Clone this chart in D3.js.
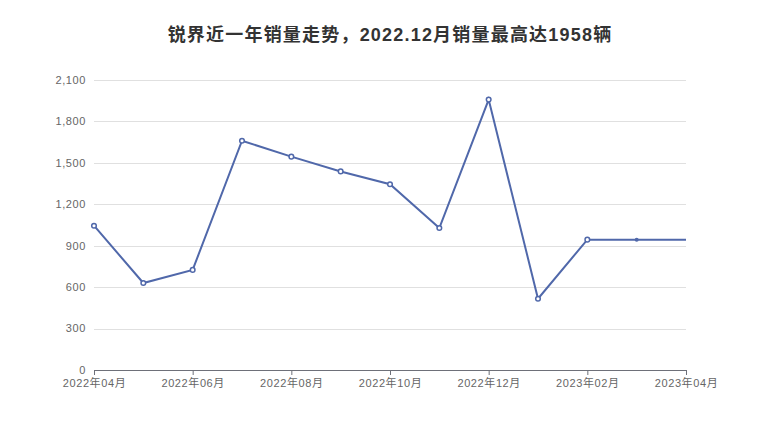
<!DOCTYPE html>
<html>
<head>
<meta charset="utf-8">
<script src="https://cdn.jsdelivr.net/npm/d3@7"></script>
<style>
body { margin: 0; background: #fff; }
svg { font-family: "Liberation Sans", "Noto Sans CJK SC", sans-serif; }
.grid line { stroke: #e0e0e0; }
</style>
</head>
<body>
<svg width="780" height="440"></svg>
<script>
var title = "锐界近一年销量走势，2022.12月销量最高达1958辆";
var months = ["2022-04", "2022-05", "2022-06", "2022-07", "2022-08", "2022-09", "2022-10",
  "2022-11", "2022-12", "2023-01", "2023-02", "2023-03", "2023-04"];
var sales = [1045, 630, 725, 1660, 1545, 1438, 1345, 1028, 1958, 516, 944, 944, 944];
var yTicks = [0, 300, 600, 900, 1200, 1500, 1800, 2100];
var xTickMonths = ["2022-04", "2022-06", "2022-08", "2022-10", "2022-12", "2023-02", "2023-04"];

var svg = d3.select("svg"),
  margin = {top: 80, right: 94, bottom: 70, left: 94},
  width = +svg.attr("width") - margin.left - margin.right,
  height = +svg.attr("height") - margin.top - margin.bottom;

var data = months.map(function(m, i) { return {month: m, value: sales[i]}; });

var x = d3.scalePoint()
  .domain(months)
  .range([0, width]);

var y = d3.scaleLinear()
  .domain([0, 2100])
  .range([height, 0]);

svg.append("text")
  .attr("x", 390)
  .attr("y", 41)
  .attr("text-anchor", "middle")
  .attr("font-size", 18)
  .attr("font-weight", "bold")
  .attr("letter-spacing", 1.2)
  .attr("fill", "#333")
  .text(title);

var g = svg.append("g").attr("transform", "translate(" + margin.left + "," + margin.top + ")");

// horizontal grid
g.append("g")
  .attr("class", "grid")
  .selectAll("line")
  .data(yTicks.slice(1))
  .enter().append("line")
  .attr("x1", 0)
  .attr("x2", width)
  .attr("y1", function(d) { return Math.round(y(d)) + 0.5; })
  .attr("y2", function(d) { return Math.round(y(d)) + 0.5; });

// y labels
g.append("g")
  .selectAll("text")
  .data(yTicks)
  .enter().append("text")
  .attr("x", -8)
  .attr("y", function(d) { return y(d); })
  .attr("dy", "0.35em")
  .attr("text-anchor", "end")
  .attr("font-size", 11)
  .attr("letter-spacing", 0.6)
  .attr("fill", "#666")
  .text(d3.format(","));

// x axis
function fmtMonth(m) { var p = m.split("-"); return p[0] + "年" + p[1] + "月"; }
var xAxis = g.append("g")
  .attr("transform", "translate(0," + height + ")")
  .call(d3.axisBottom(x)
    .tickValues(xTickMonths)
    .tickSize(5)
    .tickSizeOuter(0)
    .tickFormat(fmtMonth));
xAxis.select(".domain").attr("stroke", "#6e7079");
xAxis.selectAll(".tick line").attr("stroke", "#6e7079");
xAxis.selectAll("text")
  .attr("font-size", 11)
  .attr("fill", "#666")
  .attr("letter-spacing", 0.6)
  .attr("font-family", "\"Liberation Sans\", \"Noto Sans CJK SC\", sans-serif")
  .attr("y", 9)
  .attr("dy", "0.71em");

var line = d3.line()
  .x(function(d) { return x(d.month); })
  .y(function(d) { return y(d.value); });

g.append("path")
  .datum(data)
  .attr("fill", "none")
  .attr("stroke", "#5068aa")
  .attr("stroke-width", 2)
  .attr("d", line);

// hollow markers (last two points drawn differently)
g.selectAll(".dot")
  .data(data.slice(0, data.length - 2))
  .enter().append("circle")
  .attr("class", "dot")
  .attr("cx", function(d) { return x(d.month); })
  .attr("cy", function(d) { return y(d.value); })
  .attr("r", 2.3)
  .attr("fill", "#fff")
  .attr("stroke", "#5068aa")
  .attr("stroke-width", 1.5);

g.append("circle")
  .datum(data[data.length - 2])
  .attr("cx", function(d) { return x(d.month); })
  .attr("cy", function(d) { return y(d.value); })
  .attr("r", 2)
  .attr("fill", "#5068aa");
</script>
</body>
</html>
